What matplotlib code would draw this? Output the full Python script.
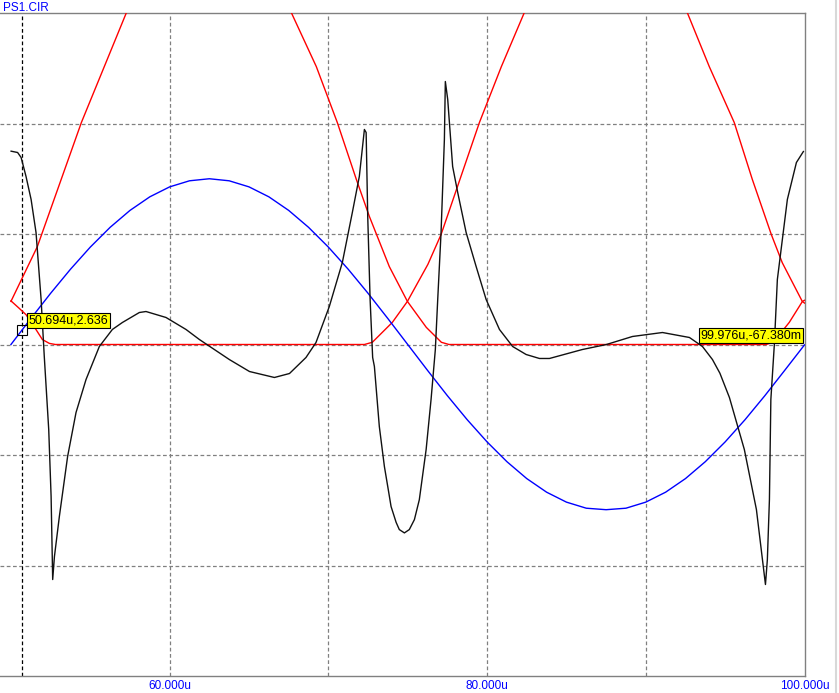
import matplotlib
matplotlib.use("Agg")
import matplotlib.pyplot as plt
from matplotlib.lines import Line2D

# time axis in microseconds, values in volts
blue_t = [50.0, 51.25, 52.5, 53.75, 55.0, 56.25, 57.5, 58.75, 60.0, 61.25,
          62.5, 63.75, 65.0, 66.25, 67.5, 68.75, 70.0, 71.25, 72.5, 73.75,
          75.0, 76.25, 77.5, 78.75, 80.0, 81.25, 82.5, 83.75, 85.0, 86.25,
          87.5, 88.75, 90.0, 91.25, 92.5, 93.75, 95.0, 96.25, 97.5, 98.75, 100.0]
blue_v = [0.0, 4.69, 9.27, 13.62, 17.63, 21.21, 24.27, 26.73, 28.53, 29.63,
          30.0, 29.63, 28.53, 26.73, 24.27, 21.21, 17.63, 13.62, 9.27, 4.69,
          0.0, -4.69, -9.27, -13.62, -17.63, -21.21, -24.27, -26.73, -28.53, -29.63,
          -29.9, -29.63, -28.53, -26.73, -24.27, -21.21, -17.63, -13.62, -9.27, -4.69, -0.07]

redA_t = [50.0, 50.5, 50.95, 51.58, 51.98, 52.42, 52.8, 72.27, 72.77, 74.03,
          74.98, 76.27, 77.10, 79.52, 80.90, 82.35, 84.0, 87.5, 91.0, 92.61,
          94.00, 95.57, 96.71, 97.91, 98.60, 99.86, 100.0]
redA_v = [7.9, 6.6, 5.4, 2.7, 0.9, 0.2, 0.0, 0.0, 0.4, 4.0,
          7.8, 14.5, 19.9, 40.2, 50.3, 60.1, 70.0, 80.0, 70.0, 60.1,
          50.3, 40.2, 29.9, 19.9, 14.8, 7.8, 7.5]

redB_t = [50.0, 51.66, 54.44, 57.28, 59.0, 62.4, 66.0, 67.66, 69.24, 70.56,
          71.76, 72.58, 73.84, 74.98, 76.17, 77.12, 77.6, 97.58, 98.03, 99.04,
          99.87, 100.0]
redB_v = [7.8, 17.7, 40.2, 60.1, 71.0, 80.0, 71.0, 60.1, 50.3, 40.2,
          29.9, 23.2, 14.1, 7.8, 3.1, 0.4, 0.0, 0.0, 0.4, 4.0,
          7.8, 8.0]

black_t = [50.01, 50.42, 50.64, 50.95, 51.27, 51.58, 51.90, 52.10, 52.38, 52.53,
           52.59, 52.63, 52.74, 53.05, 53.57, 54.10, 54.73, 55.57, 56.39, 57.02,
           58.09, 58.51, 59.77, 61.03, 61.87, 63.76, 65.03, 66.60, 67.55, 68.59,
           69.22, 70.06, 70.88, 71.51, 71.95, 72.27, 72.38, 72.48, 72.63, 72.79,
           72.90, 73.21, 73.53, 73.77, 73.95, 74.27, 74.47, 74.79, 75.10, 75.42,
           75.73, 76.16, 76.47, 76.74, 76.89, 77.10, 77.31, 77.37, 77.52, 77.83,
           78.15, 78.68, 79.31, 79.94, 80.78, 81.61, 82.46, 83.30, 83.93, 86.00,
           87.52, 89.16, 91.05, 92.75, 93.57, 94.20, 94.67, 95.27, 96.21, 96.97,
           97.35, 97.54, 97.66, 97.79, 97.88, 98.10, 98.29, 98.92, 99.49, 99.93]
black_v = [34.99, 34.75, 33.85, 30.41, 26.25, 20.27, 8.15, -2.17, -15.39, -27.51,
           -36.56, -42.54, -38.37, -31.13, -20.27, -12.31, -6.34, -0.36, 2.72, 3.98,
           5.79, 5.97, 4.89, 2.72, 0.91, -2.72, -4.89, -5.97, -5.25, -2.35,
           0.36, 6.88, 14.84, 23.89, 30.41, 38.92, 38.37, 23.17, 8.15, -2.35,
           -3.98, -14.84, -22.08, -26.2, -29.32, -32.2, -33.5, -34.1, -33.5, -31.7,
           -28.1, -19.01, -9.96, -0.91, 8.15, 20.27, 37.11, 47.60, 44.35, 32.22,
           27.51, 20.27, 14.12, 8.15, 2.72, -0.36, -1.81, -2.53, -2.53, -0.91,
           0.0, 1.45, 2.17, 1.27, -0.36, -2.72, -5.2, -9.6, -19.01, -29.87,
           -38.92, -43.44, -38.92, -28.06, -9.96, 0.0, 11.77, 26.25, 32.94, 34.93]

cursor1 = (50.694, 2.636)
cursor2 = (99.976, -0.06738)
cursor1_text = "50.694u,2.636"
cursor2_text = "99.976u,-67.380m"

grid_x = [60, 70, 80, 90]
grid_y = [-40, -20, 0, 20, 40]
tick_x = [60, 80, 100]
tick_labels = ["60.000u", "80.000u", "100.000u"]

plt.rcParams['font.family'] = ['Liberation Sans', 'DejaVu Sans']

fig = plt.figure(figsize=(8.39, 6.93), dpi=100)
ax = fig.add_axes([0, 17 / 693, 804.5 / 839, 663 / 693])
ax.set_xlim(49.31, 100)
ax.set_ylim(-60, 60)

for gx in grid_x:
    ax.axvline(gx, color='#808080', lw=0.9, ls=(0, (3, 2)), zorder=1)
for gy in grid_y:
    ax.axhline(gy, color='#808080', lw=0.9, ls=(0, (3, 2)), zorder=1)

# cursor line
ax.axvline(cursor1[0], color='black', lw=0.9, ls=(0, (3, 2)), zorder=2)

ax.plot(redA_t, redA_v, color='#ff0000', lw=1.0, zorder=3)
ax.plot(redB_t, redB_v, color='#ff0000', lw=1.0, zorder=3)
ax.plot(blue_t, blue_v, color='#0000ff', lw=1.0, zorder=4)
ax.plot(black_t, black_v, color='#111111', lw=1.0, zorder=5)

ax.plot(cursor1[0], cursor1[1], marker='s', ms=7.5, mfc='none', mec='black',
        mew=0.8, zorder=6)

box = dict(boxstyle='square,pad=0.12', fc='#ffff00', ec='black', lw=0.8)
ax.annotate(cursor1_text, xy=cursor1, xytext=(7, 3), textcoords='offset pixels',
            ha='left', va='bottom', fontsize=9, bbox=box, zorder=7)
ax.annotate(cursor2_text, xy=cursor2, xytext=(-3, 3), textcoords='offset pixels',
            ha='right', va='bottom', fontsize=9, bbox=box, zorder=7,
            annotation_clip=False)

ax.set_xticks(tick_x)
ax.set_xticklabels(tick_labels, color='#0000ff', fontsize=8.5)
ax.set_yticks([])
ax.tick_params(axis='x', length=0, pad=3)

ax.spines['left'].set_visible(False)
for s in ['top', 'bottom', 'right']:
    ax.spines[s].set_color('#808080')
    ax.spines[s].set_linewidth(1.0)

fig.text(3 / 839, 1 - 2 / 693, "PS1.CIR", color='#0000ff', fontsize=8.5,
         ha='left', va='top')
fig.add_artist(Line2D([836 / 839, 836 / 839], [0, 1], color='#d8d8d8', lw=1.5,
                      transform=fig.transFigure))

fig.savefig("out.png", dpi=100)
